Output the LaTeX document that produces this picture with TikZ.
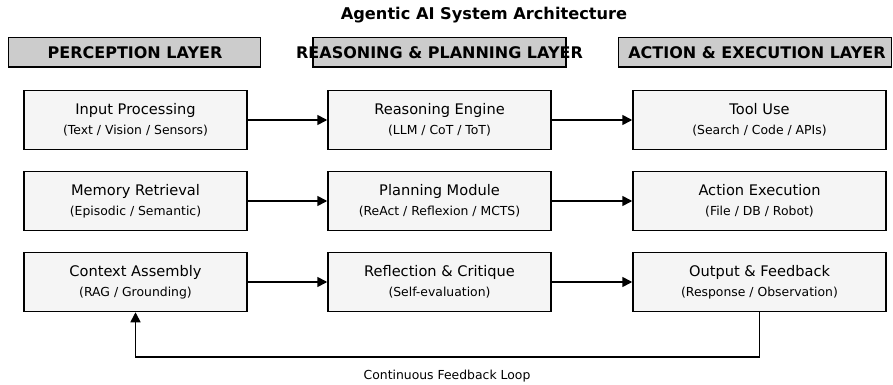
\documentclass[tikz,border=0pt]{standalone}
\usepackage{fontspec}
\setmainfont{DejaVu Sans}
\usetikzlibrary{arrows.meta}
\definecolor{boxfill}{HTML}{F5F5F5}
\definecolor{hdrfill}{HTML}{CCCCCC}
\newcommand\mkblock[6]{%
  \node[blk, minimum width=#4] (#1) at (#2,#3) {};
  \path (#1.center) ++(0,-5.2) node[mainlbl] (#1-t) {#5};
  \path (#1.center) ++(0,14) node[sublbl] (#1-s) {#6};
}
\begin{document}
\begin{tikzpicture}[x=1pt,y=-1pt,
  blk/.style={draw, line width=1.5pt, fill=boxfill, minimum height=59pt, inner sep=0pt},
  hdr/.style={draw, line width=1.5pt, fill=hdrfill, minimum height=29.5pt, inner sep=0pt},
  mainlbl/.style={anchor=base, inner sep=0pt, font=\fontsize{14.6}{17}\selectfont},
  sublbl/.style={anchor=base, inner sep=0pt, font=\fontsize{12.4}{15}\selectfont},
  hdrlbl/.style={anchor=base, inner sep=0pt, font=\bfseries\fontsize{16}{19}\selectfont},
  flow/.style={line width=1.6pt, -{Triangle[length=10pt,width=10pt]}}]
\useasboundingbox (0,0) rectangle (893,385);
\fill[white] (0,0) rectangle (893,385);

% title
\node[anchor=base, inner sep=0pt, font=\bfseries\fontsize{16.2}{19}\selectfont] (title) at (484,19.7) {Agentic AI System Architecture};

% headers
\node[hdr, minimum width=252pt] (h1) at (134.5,52.25) {};
\node[hdrlbl] (h1t) at (135,58.3) {PERCEPTION LAYER};
\node[hdr, minimum width=253pt] (h2) at (439.5,52.25) {};
\node[hdrlbl] (h2t) at (439.5,58.3) {REASONING \& PLANNING LAYER};
\node[hdr, minimum width=273pt] (h3) at (755,52.25) {};
\node[hdrlbl] (h3t) at (757,58.3) {ACTION \& EXECUTION LAYER};

% blocks
\mkblock{inp}{135.5}{120}{223pt}{Input Processing}{(Text / Vision / Sensors)}
\mkblock{mem}{135.5}{201}{223pt}{Memory Retrieval}{(Episodic / Semantic)}
\mkblock{ctx}{135.5}{282}{223pt}{Context Assembly}{(RAG / Grounding)}
\mkblock{rea}{439.5}{120}{223pt}{Reasoning Engine}{(LLM / CoT / ToT)}
\mkblock{pla}{439.5}{201}{223pt}{Planning Module}{(ReAct / Reflexion / MCTS)}
\mkblock{ref}{439.5}{282}{223pt}{Reflection \& Critique}{(Self-evaluation)}
\mkblock{too}{759.5}{120}{253pt}{Tool Use}{(Search / Code / APIs)}
\mkblock{act}{759.5}{201}{253pt}{Action Execution}{(File / DB / Robot)}
\mkblock{out}{759.5}{282}{253pt}{Output \& Feedback}{(Response / Observation)}

% connectors
\draw[flow] (inp) -- (rea);
\draw[flow] (rea) -- (too);
\draw[flow] (mem) -- (pla);
\draw[flow] (pla) -- (act);
\draw[flow] (ctx) -- (ref);
\draw[flow] (ref) -- (out);
\draw[flow] (out.south) -- ++(0,44.5) -| (ctx.south);

\node[anchor=base, inner sep=0pt, font=\fontsize{12.4}{15}\selectfont] (fbl) at (447,379.3) {Continuous Feedback Loop};
\end{tikzpicture}
\end{document}
